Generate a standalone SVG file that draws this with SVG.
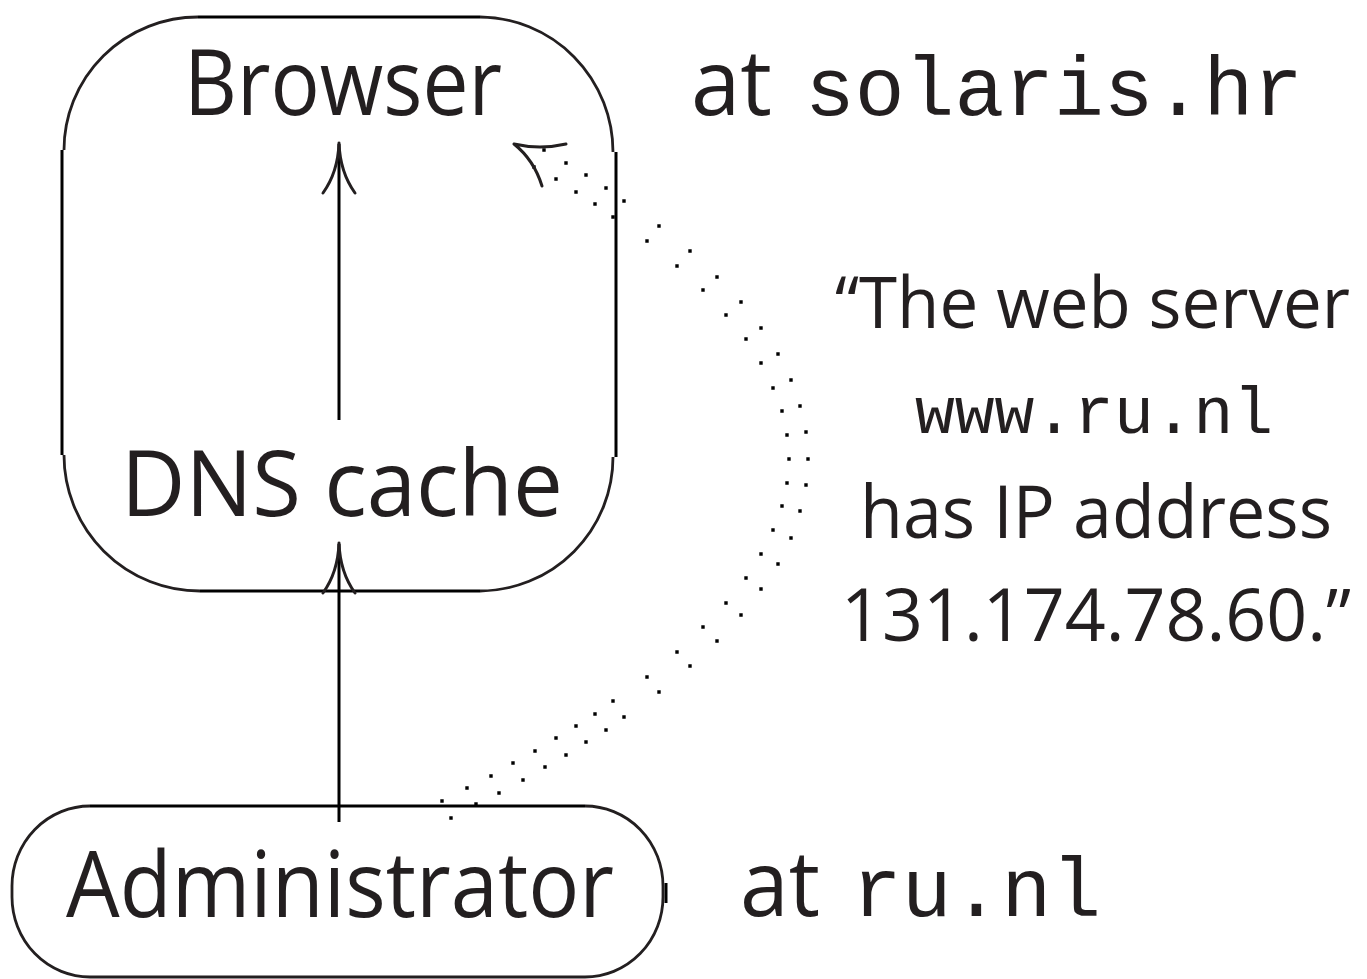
<svg xmlns="http://www.w3.org/2000/svg" width="1367" height="979" viewBox="0 0 1367 979">
<style>
  .bg { fill: #ffffff; }
  .arc { fill: none; stroke: #231f20; stroke-width: 2.8; }
  .edge { fill: none; stroke: #000000; stroke-width: 3; }
  .shaft { fill: none; stroke: #000000; stroke-width: 3; }
  .tip { fill: none; stroke: #231f20; stroke-width: 3; stroke-linecap: round; }
  .lbl { font-family: "Open Sans", "Liberation Sans", sans-serif; font-size: 92px; fill: #231f20; }
  .sans { font-family: "Open Sans", "Liberation Sans", sans-serif; fill: #231f20; }
  .mono { font-family: "Liberation Mono", "Courier New", monospace; fill: #231f20; }
  .dots { fill: #000000; stroke: none; }
</style>
<rect class="bg" x="0" y="0" width="1367" height="979"/>

<g id="node-browser-box">
  <path class="edge" d="M198,17 H480"/>
  <path class="arc" d="M480,17 A134,135 0 0 1 613,152"/>
  <path class="edge" d="M616,152 V457"/>
  <path class="arc" d="M613,457 A134,134 0 0 1 480,591"/>
  <path class="edge" d="M480,591 H200"/>
  <path class="arc" d="M200,591 A136,136 0 0 1 64,455"/>
  <path class="edge" d="M62,455 V150"/>
  <path class="arc" d="M64,150 A134,133 0 0 1 198,17"/>
</g>

<g id="node-browser">
  <text class="lbl" x="343" y="115" text-anchor="middle" textLength="318" lengthAdjust="spacingAndGlyphs">Browser</text>
</g>

<g id="node-dns-cache">
  <text class="lbl" x="342" y="516" text-anchor="middle" textLength="442" lengthAdjust="spacingAndGlyphs">DNS cache</text>
</g>

<g id="node-administrator">
  <path class="edge" d="M90,806 H585"/>
  <path class="arc" d="M585,806 A78,80 0 0 1 663,886 V897 A78,80 0 0 1 585,977 H90 A78,80 0 0 1 12,897 V886 A78,80 0 0 1 90,806"/>
  <path class="edge" d="M666,883 V903"/>
  <text class="lbl" x="340" y="917" text-anchor="middle" textLength="548" lengthAdjust="spacingAndGlyphs">Administrator</text>
</g>

<g id="label-solaris">
  <text class="sans" x="691" y="115" font-size="92" textLength="81" lengthAdjust="spacingAndGlyphs">at</text>
  <text class="mono" x="805" y="115" font-size="83" textLength="498" lengthAdjust="spacingAndGlyphs">solaris.hr</text>
</g>

<g id="label-runl">
  <text class="sans" x="740" y="916" font-size="92" textLength="80" lengthAdjust="spacingAndGlyphs">at</text>
  <text class="mono" x="852" y="916" font-size="83" textLength="249" lengthAdjust="spacingAndGlyphs">ru.nl</text>
</g>

<g id="label-message">
  <text class="sans" x="1350" y="328" font-size="72" text-anchor="end" textLength="515" lengthAdjust="spacingAndGlyphs">“The web server</text>
  <text class="mono" x="1094" y="433" font-size="66" text-anchor="middle" textLength="358" lengthAdjust="spacingAndGlyphs">www.ru.nl</text>
  <text class="sans" x="1096" y="538" font-size="74" text-anchor="middle" textLength="472" lengthAdjust="spacingAndGlyphs">has IP address</text>
  <text class="sans" x="1096" y="641" font-size="74" text-anchor="middle" textLength="510" lengthAdjust="spacingAndGlyphs">131.174.78.60.”</text>
</g>

<g id="connectors">
  <!-- DNS cache -> Browser -->
  <path class="shaft" d="M339,420 V144"/>
  <path class="tip" d="M339,143 Q338,172 323,193 M339,143 Q340,172 355,193"/>
  <!-- Administrator -> DNS cache -->
  <path class="shaft" d="M339,822 V544"/>
  <path class="tip" d="M339,543 Q338,572 323,593 M339,543 Q340,572 355,593"/>
  <!-- Administrator ~> Browser (dotted double) -->
  <path class="dots" d="M542.3,148.3h3.4v3.4h-3.4z M564.3,161.3h3.4v3.4h-3.4z M584.3,173.3h3.4v3.4h-3.4z M604.3,186.3h3.4v3.4h-3.4z M622.3,199.3h3.4v3.4h-3.4z M657.3,224.3h3.4v3.4h-3.4z M688.3,249.3h3.4v3.4h-3.4z M715.3,275.3h3.4v3.4h-3.4z M739.3,300.3h3.4v3.4h-3.4z M759.3,326.3h3.4v3.4h-3.4z M776.3,352.3h3.4v3.4h-3.4z M789.3,378.3h3.4v3.4h-3.4z M798.3,404.3h3.4v3.4h-3.4z M804.3,430.3h3.4v3.4h-3.4z M806.3,457.3h3.4v3.4h-3.4z M804.3,483.3h3.4v3.4h-3.4z M798.3,509.3h3.4v3.4h-3.4z M789.3,536.3h3.4v3.4h-3.4z M776.3,562.3h3.4v3.4h-3.4z M759.3,587.3h3.4v3.4h-3.4z M739.3,613.3h3.4v3.4h-3.4z M715.3,639.3h3.4v3.4h-3.4z M688.3,664.3h3.4v3.4h-3.4z M657.3,690.3h3.4v3.4h-3.4z M622.3,715.3h3.4v3.4h-3.4z M604.3,728.3h3.4v3.4h-3.4z M584.3,740.3h3.4v3.4h-3.4z M564.3,753.3h3.4v3.4h-3.4z M543.3,765.3h3.4v3.4h-3.4z M521.3,778.3h3.4v3.4h-3.4z M497.3,791.3h3.4v3.4h-3.4z M474.3,802.3h3.4v3.4h-3.4z M449.3,816.3h3.4v3.4h-3.4z
  M532.3,165.3h3.4v3.4h-3.4z M554.3,177.3h3.4v3.4h-3.4z M574.3,190.3h3.4v3.4h-3.4z M593.3,202.3h3.4v3.4h-3.4z M611.3,215.3h3.4v3.4h-3.4z M645.3,239.3h3.4v3.4h-3.4z M675.3,264.3h3.4v3.4h-3.4z M701.3,288.3h3.4v3.4h-3.4z M724.3,313.3h3.4v3.4h-3.4z M744.3,337.3h3.4v3.4h-3.4z M759.3,361.3h3.4v3.4h-3.4z M771.3,386.3h3.4v3.4h-3.4z M780.3,409.3h3.4v3.4h-3.4z M785.3,433.3h3.4v3.4h-3.4z M787.3,457.3h3.4v3.4h-3.4z M785.3,481.3h3.4v3.4h-3.4z M780.3,504.3h3.4v3.4h-3.4z M771.3,528.3h3.4v3.4h-3.4z M759.3,552.3h3.4v3.4h-3.4z M744.3,576.3h3.4v3.4h-3.4z M724.3,601.3h3.4v3.4h-3.4z M701.3,625.3h3.4v3.4h-3.4z M675.3,650.3h3.4v3.4h-3.4z M645.3,675.3h3.4v3.4h-3.4z M611.3,699.3h3.4v3.4h-3.4z M593.3,712.3h3.4v3.4h-3.4z M574.3,724.3h3.4v3.4h-3.4z M554.3,736.3h3.4v3.4h-3.4z M533.3,749.3h3.4v3.4h-3.4z M511.3,761.3h3.4v3.4h-3.4z M489.3,774.3h3.4v3.4h-3.4z M465.3,786.3h3.4v3.4h-3.4z M440.3,799.3h3.4v3.4h-3.4z"/>
  <path class="tip" d="M514,144 Q540,150 566,144 M514,144 Q534,160 542,186"/>
</g>
</svg>
